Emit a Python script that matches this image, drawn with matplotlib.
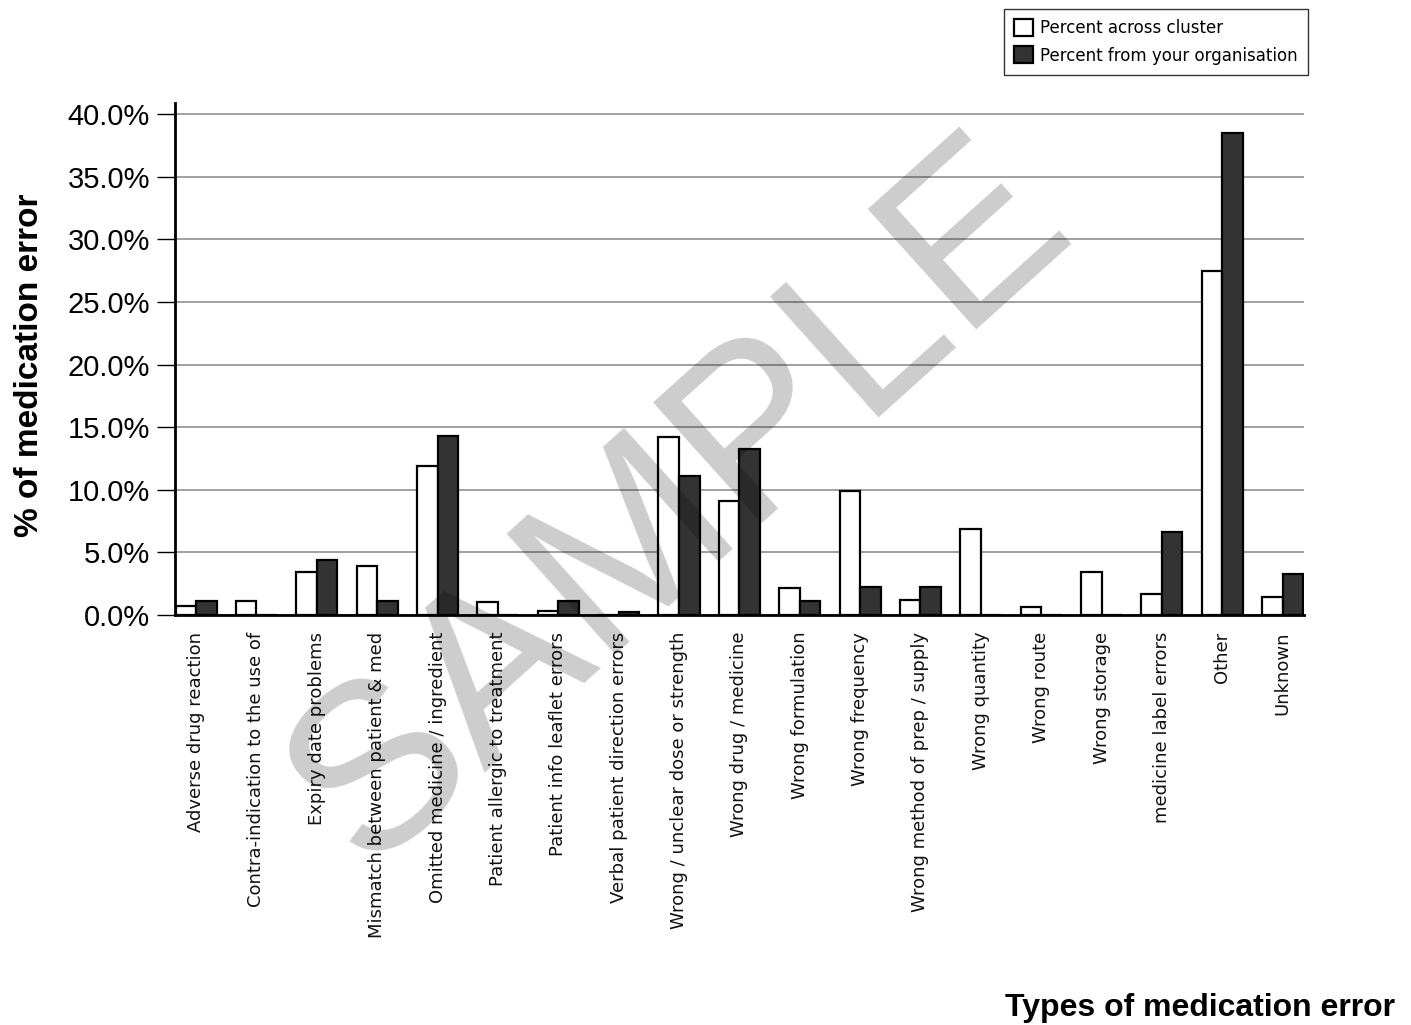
import numpy as np
import matplotlib.pyplot as plt
from matplotlib.ticker import FuncFormatter

plt.rcParams['font.family'] = ['Liberation Sans', 'DejaVu Sans']

# Data
categories = ['Adverse drug reaction', 'Contra-indication to the use of',
              'Expiry date problems', 'Mismatch between patient & med',
              'Omitted medicine / ingredient', 'Patient allergic to treatment',
              'Patient info leaflet errors', 'Verbal patient direction errors',
              'Wrong / unclear dose or strength', 'Wrong drug / medicine',
              'Wrong formulation', 'Wrong frequency',
              'Wrong method of prep / supply', 'Wrong quantity', 'Wrong route',
              'Wrong storage', 'medicine label errors', 'Other', 'Unknown']
cluster = [0.7, 1.1, 3.4, 3.9, 11.9, 1.0, 0.3, 0.0, 14.2, 9.1,
           2.15, 9.9, 1.2, 6.9, 0.6, 3.4, 1.7, 27.5, 1.4]
organisation = [1.1, 0.0, 4.4, 1.1, 14.3, 0.0, 1.1, 0.2, 11.1, 13.3,
                1.1, 2.25, 2.25, 0.0, 0.0, 0.0, 6.6, 38.5, 3.3]

fig = plt.figure(figsize=(14.11, 10.25), dpi=100)
ax = fig.add_axes([0.124, 0.4, 0.8, 0.4995])

x = np.arange(len(categories))
w = 0.34
ax.bar(x - w / 2, cluster, w, color='white', edgecolor='black', linewidth=1.6,
       label='Percent across cluster', zorder=3)
ax.bar(x + w / 2, organisation, w, color='#333333', edgecolor='black', linewidth=1.6,
       label='Percent from your organisation', zorder=3)

ax.set_xlim(-0.35, len(categories) - 1 + 0.35)
ax.set_ylim(0, 40.9)
ax.set_yticks(np.arange(0, 41, 5))
ax.yaxis.set_major_formatter(FuncFormatter(lambda v, p: '{:.1f}%'.format(v)))
ax.yaxis.grid(True, color='#999999', linewidth=1.3, zorder=0)
ax.tick_params(axis='y', labelsize=21, length=13, width=1, pad=5)
ax.set_xticks(x)
ax.set_xticklabels(categories, rotation=90, fontsize=13, va='top',
                   family='DejaVu Sans', color='#111111')
ax.tick_params(axis='x', length=0, pad=12)

for s in ['top', 'right']:
    ax.spines[s].set_visible(False)
ax.spines['left'].set_linewidth(2)
ax.spines['bottom'].set_linewidth(2)

fig.text(30 / 1411, 1 - 365 / 1025, '% of medication error', fontsize=24,
         fontweight='bold', rotation=90, ha='center', va='center')
fig.text(0.9887, 0.0166, 'Types of medication error', fontsize=23, fontweight='bold',
         ha='right', va='center')

leg = ax.legend(loc='upper right', bbox_to_anchor=(1.0035, 1.1836), borderaxespad=0,
                prop={'family': 'DejaVu Sans', 'size': 12},
                frameon=True, fancybox=False, edgecolor='black', borderpad=0.6,
                handlelength=1.15, handleheight=1.2, handletextpad=0.4,
                labelspacing=0.55)
leg.get_frame().set_linewidth(1)

# watermark
fig.text(0.482, 0.508, 'SAMPLE', fontsize=170, color='black', alpha=0.2,
         rotation=42, ha='center', va='center', zorder=10)

plt.savefig('out.png', dpi=100)
